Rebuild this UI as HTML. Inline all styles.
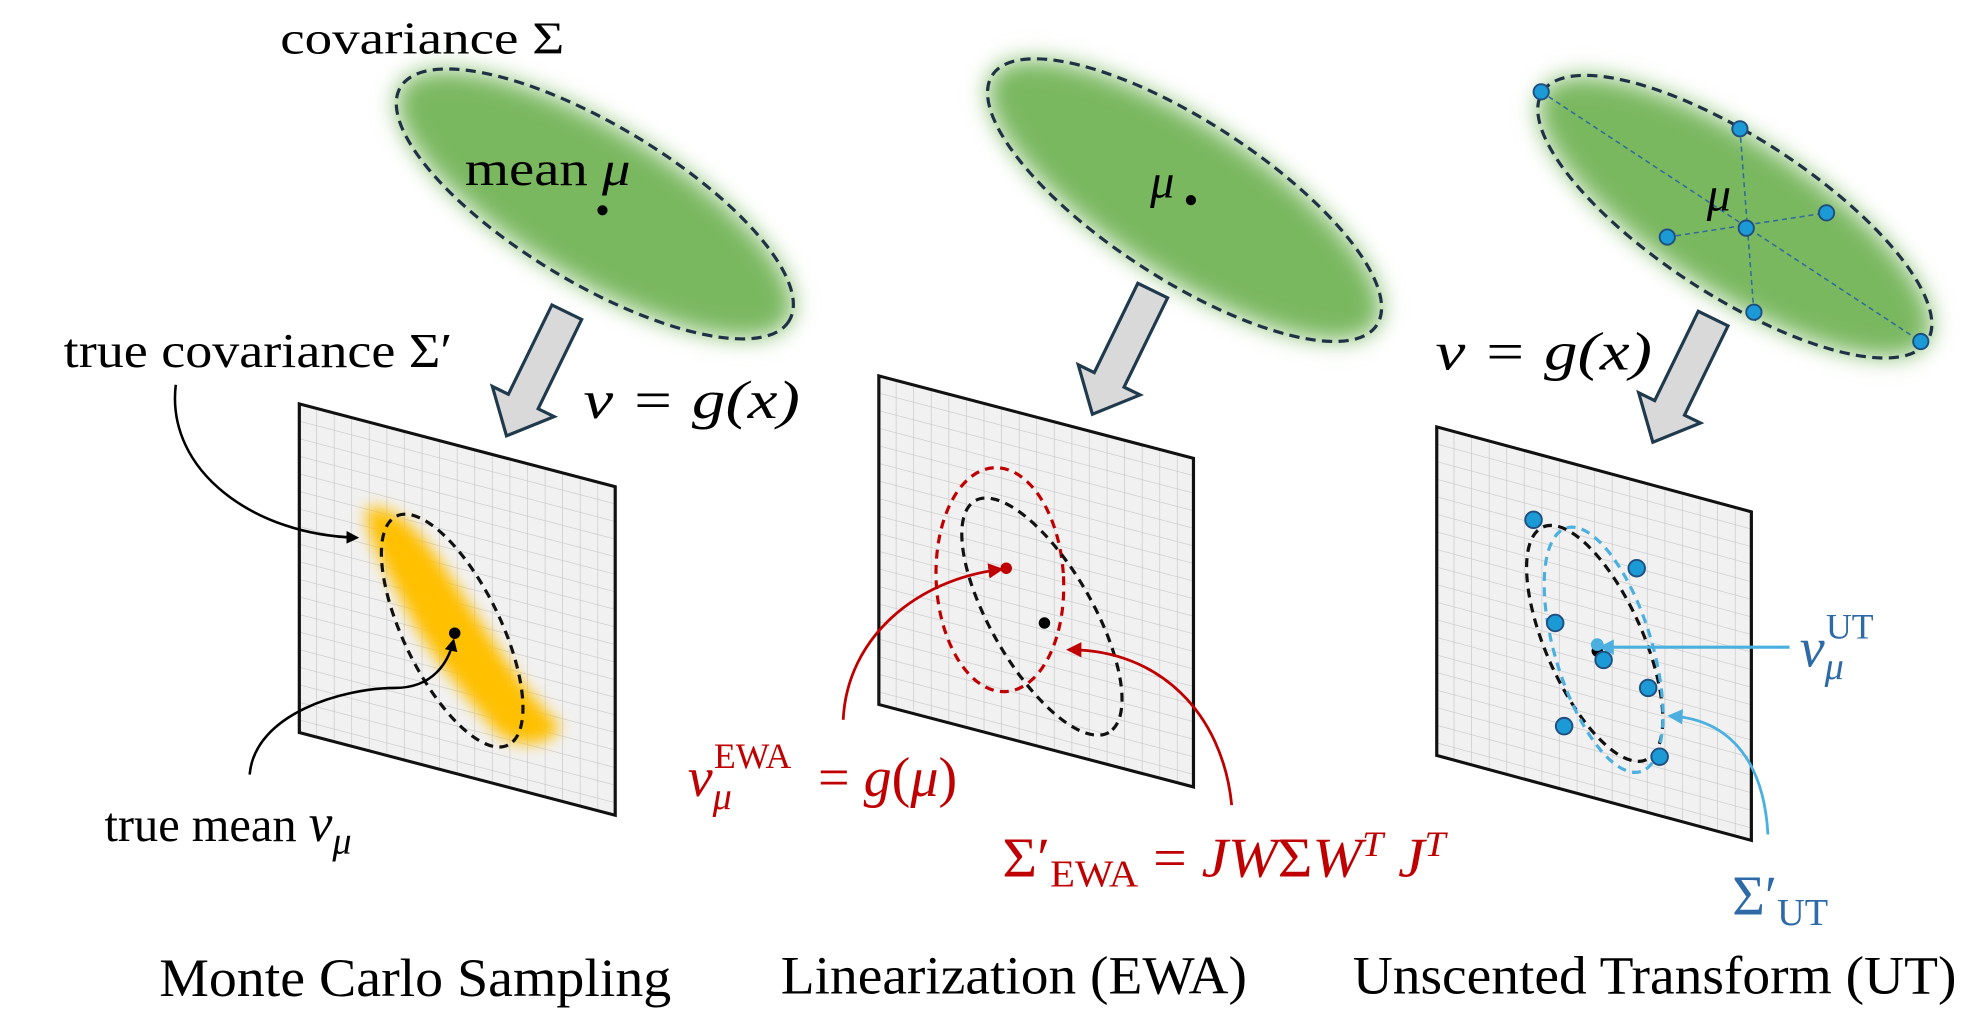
<!DOCTYPE html>
<html><head><meta charset="utf-8"><style>
html,body{margin:0;padding:0;background:#fff;}
svg{display:block;}
text{font-family:"Liberation Serif",serif;}
.it{font-style:italic;}
</style></head><body>
<svg width="1987" height="1032" viewBox="0 0 1560 810" xmlns="http://www.w3.org/2000/svg">
<defs>
<filter id="blur" x="-30%" y="-30%" width="160%" height="160%"><feGaussianBlur stdDeviation="9"/></filter>
<filter id="blur2" x="-30%" y="-30%" width="160%" height="160%"><feGaussianBlur stdDeviation="6"/></filter>
<pattern id="grid" width="13.8" height="13.8" patternUnits="userSpaceOnUse">
<rect width="13.8" height="13.8" fill="#f1f1f1"/>
<path d="M13.8 0V13.8M0 13.8H13.8" stroke="#c6c6c6" stroke-width="1" fill="none"/>
</pattern>
<marker id="ak" markerWidth="10" markerHeight="10" refX="8" refY="5" orient="auto" markerUnits="userSpaceOnUse"><path d="M0,0L10,5L0,10z" fill="#000"/></marker>
<marker id="ar" markerWidth="12" markerHeight="12" refX="9" refY="6" orient="auto" markerUnits="userSpaceOnUse"><path d="M0,0L12,6L0,12z" fill="#c00000"/></marker>
<marker id="ab" markerWidth="12" markerHeight="12" refX="9" refY="6" orient="auto" markerUnits="userSpaceOnUse"><path d="M0,0L12,6L0,12z" fill="#4bb0e0"/></marker>
<g id="barrow"><path d="M0,-13 L78,-13 L78,-27 L108,0 L78,27 L78,13 L0,13 Z" fill="#d9d9d9" stroke="#1f3a4d" stroke-width="2.5"/></g>
</defs>

<!-- Panel 1 -->
<text x="220" y="42" font-size="36" textLength="223" lengthAdjust="spacingAndGlyphs">covariance Σ</text>
<g transform="translate(467,160) rotate(31)">
<ellipse rx="178" ry="60" fill="#7ab860" filter="url(#blur)"/>
<ellipse rx="178" ry="62" fill="none" stroke="#1f3145" stroke-width="2.5" stroke-dasharray="8,5"/>
</g>
<text x="365" y="145" font-size="38" textLength="130" lengthAdjust="spacingAndGlyphs">mean <tspan class="it">μ</tspan></text>
<circle cx="473" cy="165" r="4" fill="#000"/>
<use href="#barrow" transform="translate(445,245) rotate(116)"/>
<text x="458" y="328" font-size="42" class="it" textLength="170" lengthAdjust="spacingAndGlyphs">v = g(x)</text>
<g transform="matrix(1,0.262,0,1,235,317)"><rect width="248" height="258" fill="url(#grid)" stroke="#111" stroke-width="2.5"/></g>
<path d="M288,398 C320,395 345,440 372,480 C395,515 410,540 440,570 C430,590 400,585 390,575 C360,540 335,510 320,480 C305,450 285,420 288,398Z" fill="#ffc000" filter="url(#blur2)"/>
<ellipse cx="355" cy="495" rx="100" ry="38" transform="rotate(64 355 495)" fill="none" stroke="#111" stroke-width="2.5" stroke-dasharray="7,5"/>
<circle cx="357" cy="497" r="4.5" fill="#000"/>
<text x="50" y="288" font-size="38" textLength="305" lengthAdjust="spacingAndGlyphs">true covariance Σ′</text>
<path d="M138,302 C130,370 200,420 280,422" fill="none" stroke="#000" stroke-width="2" marker-end="url(#ak)"/>
<text x="82" y="660" font-size="38">true mean <tspan class="it" font-size="42">v</tspan><tspan class="it" font-size="30" dy="10">μ</tspan></text>
<path d="M196,608 C200,560 270,540 310,540 C340,540 352,520 356,503" fill="none" stroke="#000" stroke-width="2" marker-end="url(#ak)"/>
<text x="125" y="782" font-size="42" textLength="402" lengthAdjust="spacingAndGlyphs">Monte Carlo Sampling</text>

<!-- Panel 2 -->
<g transform="translate(930,157) rotate(33)">
<ellipse rx="180" ry="60" fill="#7ab860" filter="url(#blur)"/>
<ellipse rx="180" ry="62" fill="none" stroke="#1f3145" stroke-width="2.5" stroke-dasharray="8,5"/>
</g>
<text x="903" y="155" font-size="38" class="it">μ</text>
<circle cx="935" cy="157" r="4" fill="#000"/>
<use href="#barrow" transform="translate(905,228) rotate(116)"/>
<g transform="matrix(1,0.262,0,1,690,295)"><rect width="247" height="258" fill="url(#grid)" stroke="#111" stroke-width="2.5"/></g>
<ellipse cx="785" cy="455" rx="50" ry="88" transform="rotate(-3 785 455)" fill="none" stroke="#c00000" stroke-width="2.5" stroke-dasharray="7,5"/>
<ellipse cx="818" cy="484" rx="105" ry="40" transform="rotate(60 818 484)" fill="none" stroke="#111" stroke-width="2.5" stroke-dasharray="7,5"/>
<circle cx="790" cy="446" r="4.5" fill="#c00000"/>
<circle cx="820" cy="489" r="4.5" fill="#000"/>
<path d="M662,565 C665,500 720,455 785,447" fill="none" stroke="#c00000" stroke-width="2.2" marker-end="url(#ar)"/>
<path d="M967,632 C960,560 910,510 840,510" fill="none" stroke="#c00000" stroke-width="2.2" marker-end="url(#ar)"/>
<text x="540" y="625" font-size="44" fill="#c00000"><tspan class="it">v</tspan><tspan class="it" font-size="30" dy="10">μ</tspan><tspan font-size="28" dx="-14" dy="-32">EWA</tspan><tspan dy="22" dx="10"> = </tspan><tspan class="it">g</tspan>(<tspan class="it">μ</tspan>)</text>
<text x="787" y="688" font-size="44" fill="#c00000" textLength="348" lengthAdjust="spacingAndGlyphs">Σ′<tspan font-size="30" dy="8">EWA</tspan><tspan dy="-8"> = </tspan><tspan class="it">JW</tspan>Σ<tspan class="it">W</tspan><tspan class="it" font-size="28" dy="-16">T</tspan><tspan class="it" dy="16"> J</tspan><tspan class="it" font-size="28" dy="-16">T</tspan></text>
<text x="613" y="780" font-size="42" textLength="366" lengthAdjust="spacingAndGlyphs">Linearization (EWA)</text>

<!-- Panel 3 -->
<g transform="translate(1362,170) rotate(33)">
<ellipse rx="180" ry="60" fill="#7ab860" filter="url(#blur)"/>
<ellipse rx="180" ry="62" fill="none" stroke="#1f3145" stroke-width="2.5" stroke-dasharray="8,5"/>
</g>
<g stroke="#2e6a9e" stroke-width="1.2" stroke-dasharray="4,3" fill="none">
<path d="M1210,72 L1508,268"/><path d="M1366,101 L1377,245"/><path d="M1309,186 L1434,167"/>
</g>
<text x="1340" y="165" font-size="38" class="it">μ</text>
<g fill="#1b9ad6" stroke="#1f4f80" stroke-width="1.5">
<circle cx="1210" cy="72" r="6"/><circle cx="1366" cy="101" r="6"/><circle cx="1434" cy="167" r="6"/>
<circle cx="1309" cy="186" r="6"/><circle cx="1371" cy="179" r="6"/><circle cx="1377" cy="245" r="6"/><circle cx="1508" cy="268" r="6"/>
</g>
<text x="1127" y="290" font-size="42" class="it" textLength="170" lengthAdjust="spacingAndGlyphs">v = g(x)</text>
<use href="#barrow" transform="translate(1345,250) rotate(116)"/>
<g transform="matrix(1,0.27,0,1,1128,335)"><rect width="247" height="258" fill="url(#grid)" stroke="#111" stroke-width="2.5"/></g>
<ellipse cx="1252" cy="505" rx="100" ry="38" transform="rotate(66 1252 505)" fill="none" stroke="#111" stroke-width="2.5" stroke-dasharray="7,5"/>
<ellipse cx="1259" cy="510" rx="100" ry="38" transform="rotate(73 1259 510)" fill="none" stroke="#4bb0e0" stroke-width="2.5" stroke-dasharray="7,5"/>
<circle cx="1254" cy="511" r="4.5" fill="#000"/>
<g fill="#1b9ad6" stroke="#1f4f80" stroke-width="1.5">
<circle cx="1204" cy="408" r="6.5"/><circle cx="1285" cy="446" r="6.5"/><circle cx="1221" cy="489" r="6.5"/>
<circle cx="1259" cy="518" r="6.5"/><circle cx="1294" cy="540" r="6.5"/><circle cx="1228" cy="570" r="6.5"/><circle cx="1303" cy="594" r="6.5"/>
</g>
<circle cx="1254" cy="506" r="5" fill="#4bb0e0"/>
<path d="M1405,508 L1258,508" stroke="#4bb0e0" stroke-width="2.5" marker-end="url(#ab)"/>
<text x="1413" y="523" font-size="44" fill="#2e6aa8"><tspan class="it">v</tspan><tspan class="it" font-size="30" dy="10">μ</tspan><tspan font-size="28" dx="-14" dy="-32">UT</tspan></text>
<path d="M1388,655 C1385,600 1360,565 1312,562" fill="none" stroke="#4bb0e0" stroke-width="2.2" marker-end="url(#ab)"/>
<text x="1360" y="718" font-size="44" fill="#2e6aa8">Σ′<tspan font-size="30" dy="8">UT</tspan></text>
<text x="1062" y="780" font-size="42" textLength="474" lengthAdjust="spacingAndGlyphs">Unscented Transform (UT)</text>
</svg>
</body></html>
